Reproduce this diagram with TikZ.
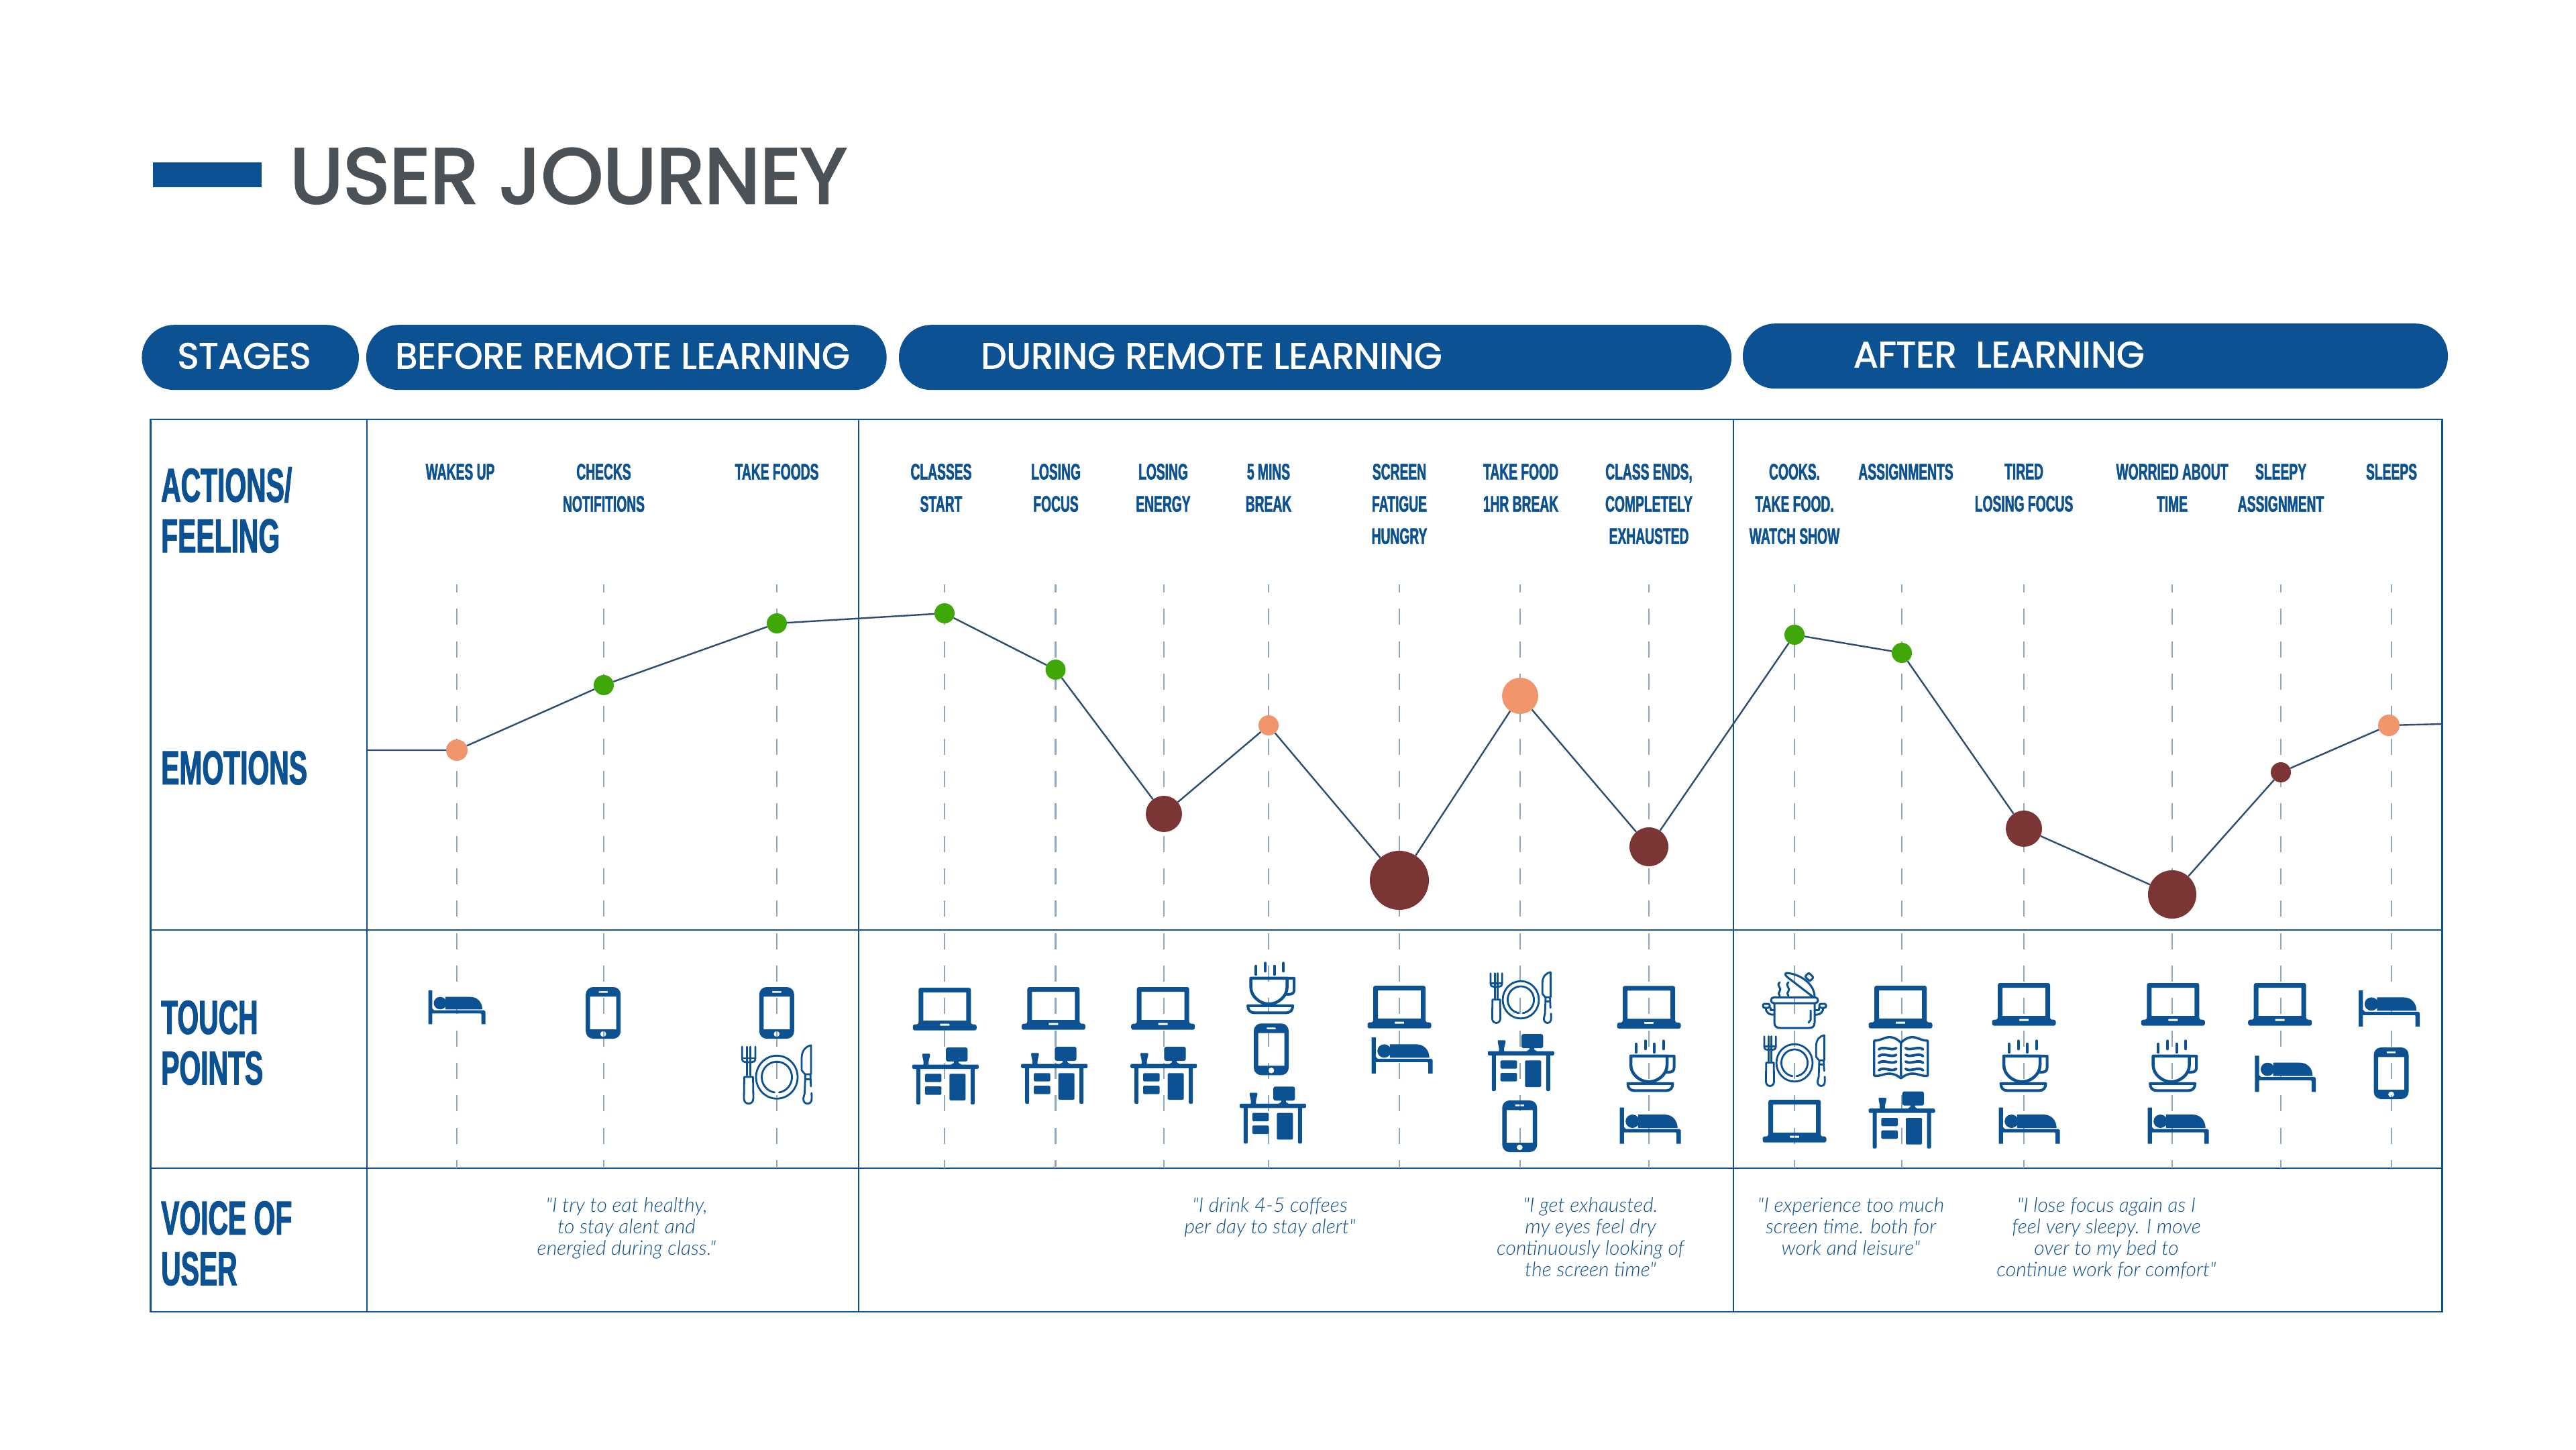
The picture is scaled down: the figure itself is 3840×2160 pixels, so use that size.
\documentclass[tikz,border=0pt]{standalone}
\usepackage{fontspec}
\usetikzlibrary{shapes.geometric}
\newfontfamily\bebasf[FakeStretch=0.575,FakeBold=1.5]{Liberation Sans Bold}
\newfontfamily\headf[FakeBold=2.8,FakeStretch=1.015]{Poppins}
\newfontfamily\pillf[FakeBold=2,FakeStretch=1.0]{Poppins}
\newfontfamily\quotef[ItalicFont={Lato Light Italic}]{Lato Light}
\definecolor{jblue}{HTML}{0C5192}
\definecolor{jgrid}{HTML}{0F5596}
\definecolor{jdash}{HTML}{8CA9C1}
\definecolor{jgray}{HTML}{4A5258}
\definecolor{jline}{HTML}{2C4D70}
\definecolor{jgreen}{HTML}{3FA808}
\definecolor{jorange}{HTML}{F0956C}
\definecolor{jdark}{HTML}{7B3535}
\tikzset{
  x=1pt,y=-1pt,
  gridline/.style={draw=jgrid,line width=2.5pt},
  vdash/.style={draw=jdash,line width=2.2pt,dash pattern=on 24pt off 24.33pt,dash phase=12pt},
  curve/.style={draw=jline,line width=2.4pt},
  dot/.style={circle,inner sep=0pt,draw=none,minimum size=#1},
  pillbox/.style={fill=jblue,rounded corners=48pt,inner sep=0pt,minimum height=97pt},
  pilltext/.style={anchor=base,inner sep=0pt,text=white,font=\pillf\fontsize{54}{60}\selectfont},
  collabel/.style={anchor=north,inner sep=0pt,align=center,text=jblue,font=\bebasf\fontsize{33.5}{48}\selectfont},
  rowlabel/.style={anchor=north west,inner sep=0pt,align=left,text=jblue,font=\bebasf\fontsize{71}{75.5}\selectfont},
  quotelabel/.style={anchor=north,inner sep=0pt,align=center,text=jblue,font=\quotef\itshape\fontsize{30}{32}\selectfont},
  iconfill/.style={fill=jblue,draw=none},
  iconline/.style={draw=jblue,line width=#1,fill=none},
  iconline/.default=3pt,
  laptop/.pic={
    \fill[iconfill,even odd rule]
      [rounded corners=3pt] (-39,0) -- (-39,54.7) -- (-47.5,54.7) -- (-47.5,63.7) -- (47.5,63.7) -- (47.5,54.7) -- (39,54.7) -- (39,0) -- cycle
      [sharp corners] (-32,7) rectangle (32,49) (-7,53.5) rectangle (7,56.5);
  },
  desk/.pic={
    \fill[iconfill,rounded corners=3pt] (0.7,0) rectangle (33,21);
    \fill[iconfill] (12.5,20) -- (19.5,20) -- (19.5,23) -- (24,26) -- (8,26) -- (12.5,23) -- cycle;
    \fill[iconfill,rounded corners=2pt] (-49.5,25.5) rectangle (49.5,32);
    \fill[iconfill,rounded corners=2pt] (-43.5,30) rectangle (-37.5,85);
    \fill[iconfill,rounded corners=2pt] (37.5,30) rectangle (43.5,85);
    \fill[iconfill,rounded corners=1.5pt] (-30.6,39.3) rectangle (-6,51.7);
    \fill[iconfill,rounded corners=1.5pt] (-30.6,58) rectangle (-6,70.7);
    \fill[iconfill,rounded corners=1.5pt] (6,39.3) rectangle (30,79);
    \fill[iconfill] (-34.6,11) .. controls (-34.6,9.3) and (-34,9.3) .. (-33,9.3) -- (-25,9.3) .. controls (-23.4,9.3) and (-23,10) .. (-23,11) .. controls (-23,16) and (-26,18) .. (-25,26) -- (-33,26) .. controls (-32,18) and (-34.6,16) .. (-34.6,11) -- cycle;
  },
  phone/.pic={
    \fill[iconfill,even odd rule]
      [rounded corners=11pt] (-26,0) rectangle (26,77)
      [sharp corners] (-19.5,14.3) rectangle (19.5,63)
      (-6.7,6) rectangle (6.7,8.7)
      (0,70) ellipse [x radius=4.5,y radius=4.3];
  },
  bed/.pic={
    \fill[iconfill] (-42.5,0) -- (-36.6,0) -- (-36.6,27) -- (-34,29.7) -- (40.5,29.7) -- (42.5,31.5) -- (42.5,50.4) -- (36.5,50.4) -- (36.5,35.5) -- (35.5,34.4) -- (-36.6,34.4) -- (-36.6,50.4) -- (-42.5,50.4) -- cycle;
    \fill[iconfill] (-24.8,19) ellipse [x radius=9.6,y radius=9.3];
    \fill[iconfill] (-17,9.7) -- (20,9.7) .. controls (31,9.7) and (38,18) .. (38,28.4) -- (-17,28.4) -- cycle;
  },
  cup/.pic={
    \draw[iconline=4pt,line cap=round] (-21.2,6.5) -- (-21.2,19) (-7.4,2) -- (-7.4,14) (5.9,6.5) -- (5.9,19) (19.6,2) -- (19.6,14);
    \draw[iconline=4.5pt,line join=round] (-29,24.5) -- (-29,38) .. controls (-29,52) and (-15,63) .. (-2,63) .. controls (11,63) and (25,52) .. (25,38) -- (25,24.5) -- cycle;
    \draw[iconline=4pt,line join=round] (25,24.5) -- (35.5,24.5) -- (35.5,42) .. controls (35.5,47) and (32,48.5) .. (28,48.5) -- (22,48.5);
    \draw[iconline=4pt,line join=round] (-33.5,65.5) -- (33.5,65.5) .. controls (33.5,72) and (30,76) .. (24,76) -- (-24,76) .. controls (-30,76) and (-33.5,72) .. (-33.5,65.5) -- cycle;
  },
  plate/.pic={
    \begin{scope}[iconline=2.8pt,line cap=round,line join=round]
    \draw (0,48.3) ellipse [x radius=31,y radius=32];
    \draw plot[domain=99:441,samples=48,smooth,variable=\t] ({22.5*cos(\t)},{48.3+23*sin(\t)});
    \draw (-51.8,3) -- (-51.8,20) .. controls (-51.8,25) and (-49,26) .. (-46,26) -- (-38,26) .. controls (-35,26) and (-32,25) .. (-32,20) -- (-32,3);
    \draw (-44.6,3) -- (-44.6,46) (-39.3,3) -- (-39.3,46) (-51.8,20) -- (-32,20);
    \draw (-48.5,48) -- (-35.5,48) -- (-35,80) .. controls (-35,90.5) and (-49,90.5) .. (-49,80) -- cycle;
    \draw (51,1) .. controls (44,2) and (37,8) .. (37,20) -- (37,38) -- (42,44) -- (51,44) -- cycle;
    \draw (42.5,44) -- (41.5,72) -- (39.5,80) .. controls (39,90.5) and (52.5,90.5) .. (52,80) -- (51.8,72);
    \draw (50,44) -- (50.8,62);
    \draw (42.5,51.5) -- (50.3,51.5);
    \end{scope}
  },
  pot/.pic={
    \begin{scope}[iconline=3pt,line cap=round,line join=round]
    \draw (-30,47) -- (-30,76) .. controls (-30,82) and (-26,84) .. (-22,84) -- (22,84) .. controls (26,84) and (30,82) .. (30,76) -- (30,47);
    \draw[rounded corners=4pt] (-35,38.5) rectangle (35,47);
    \draw[rounded corners=2.5pt] (-47,48) rectangle (-37,54);
    \draw[rounded corners=2.5pt] (37,48) rectangle (47,54);
    \draw (-43,54) .. controls (-43,60) and (-38,64) .. (-34,64) -- (-30,64);
    \draw (-36,54) -- (-36,57) -- (-30,57);
    \draw (43,54) .. controls (43,60) and (38,64) .. (34,64) -- (30,64);
    \draw (36,54) -- (36,57) -- (30,57);
    \draw (24,58) -- (24,72) -- (21,76);
    \draw (-13,2) .. controls (8,3) and (30,18) .. (30,38) (-13,2) .. controls (-15,4) and (-13,6) .. (-11,8) -- (28,38);
    \draw[rotate around={45:(22,8)},rounded corners=2pt] (18,3) rectangle (26,13);
    \draw (-22,16) .. controls (-28,21) and (-18,25) .. (-22,29) .. controls (-24,31) and (-24,33) .. (-22,36);
    \draw (-9,16) .. controls (-15,21) and (-5,25) .. (-9,29) .. controls (-11,31) and (-11,33) .. (-9,36);
    \end{scope}
  },
  book/.pic={
    \draw[iconline=3.4pt,line join=round] (0,10) .. controls (-8,2) and (-16,0) .. (-24,3) .. controls (-30,5) and (-34,7) .. (-40,7) -- (-40,59) .. controls (-32,61) and (-26,56) .. (-18,56) .. controls (-10,56) and (-5,59) .. (0,63) .. controls (5,59) and (10,56) .. (18,56) .. controls (26,56) and (32,61) .. (40,59) -- (40,7) .. controls (34,7) and (30,5) .. (24,3) .. controls (16,0) and (8,2) .. (0,10) -- cycle;
    \draw[iconline=3.4pt] (0,10) -- (0,60);
    \foreach \w in {18,28,38,49}{
      \draw[iconline=3.8pt,line cap=round] (-33,\w+2) .. controls (-26,\w-4) and (-14,\w+5) .. (-7,\w);
      \draw[iconline=3.8pt,line cap=round] (7,\w) .. controls (14,\w+5) and (26,\w-4) .. (33,\w+2);
    }
  }
}
\begin{document}
\begin{tikzpicture}
\useasboundingbox (0,0) rectangle (3840,2160);
\fill[white] (0,0) rectangle (3840,2160);

% title
\fill[jblue] (227.5,242) rectangle (390,279);
\node[anchor=base west,inner sep=0pt,text=jgray,font=\headf\fontsize{116}{120}\selectfont] (title) at (432,302.7) {USER JOURNEY};

% stage pills
\node[pillbox,minimum width=323.5pt] (pstages) at (373.2,532.7) {};
\node[pillbox,minimum width=775.7pt] (pbefore) at (933.8,532.7) {};
\node[pillbox,minimum width=1241pt] (pduring) at (1960.5,532.7) {};
\node[pillbox,minimum width=1051pt] (pafter) at (3123.5,530.7) {};
\node[pilltext] (tstages) at (364,549.3) {STAGES};
\node[pilltext] (tbefore) at (928,549.3) {BEFORE REMOTE LEARNING};
\node[pilltext] (tduring) at (1806,549.3) {DURING REMOTE LEARNING};
\node[pilltext] (tafter) at (2980,547.3) {AFTER\ \ LEARNING};

% table
\draw[gridline] (224.5,625) rectangle (3640.5,1955);
\draw[gridline] (224.5,1386) -- (3640.5,1386) (224.5,1741) -- (3640.5,1741);
\draw[gridline] (547,625) -- (547,1955) (1280,625) -- (1280,1955) (2584,625) -- (2584,1955);

% guide dashes
\foreach \gx in {681,900,1158,1408,1573.5,1735,1891,2086,2266,2458,2675,2835,3017,3238,3400,3565}{
  \coordinate (gtop) at (\gx,871);
  \coordinate (gbot) at (\gx,1741);
  \draw[vdash] (gtop) -- (gbot);
}

% row labels
\node[rowlabel] (ractions) at (240,696) {ACTIONS/\\FEELING};
\node[rowlabel] (remotions) at (240,1119) {EMOTIONS};
\node[rowlabel] (rtouch) at (240,1491) {TOUCH\\POINTS};
\node[rowlabel] (rvoice) at (240,1790) {VOICE OF\\USER};

% column labels
\node[collabel] (c1) at (686,691) {WAKES UP};
\node[collabel] (c2) at (900,691) {CHECKS\\NOTIFITIONS};
\node[collabel] (c3) at (1158,691) {TAKE FOODS};
\node[collabel] (c4) at (1403,691) {CLASSES\\START};
\node[collabel] (c5) at (1574,691) {LOSING\\FOCUS};
\node[collabel] (c6) at (1734,691) {LOSING\\ENERGY};
\node[collabel] (c7) at (1891,691) {5 MINS\\BREAK};
\node[collabel] (c8) at (2086,691) {SCREEN\\FATIGUE\\HUNGRY};
\node[collabel] (c9) at (2267,691) {TAKE FOOD\\1HR BREAK};
\node[collabel] (c10) at (2458,691) {CLASS ENDS,\\COMPLETELY\\EXHAUSTED};
\node[collabel] (c11) at (2675,691) {COOKS.\\TAKE FOOD.\\WATCH SHOW};
\node[collabel] (c12) at (2841,691) {ASSIGNMENTS};
\node[collabel] (c13) at (3017,691) {TIRED\\LOSING FOCUS};
\node[collabel] (c14) at (3238,691) {WORRIED ABOUT\\TIME};
\node[collabel] (c15) at (3400,691) {SLEEPY\\ASSIGNMENT};
\node[collabel] (c16) at (3565,691) {SLEEPS};

% emotion curve
\coordinate (e0) at (547,1118);
\coordinate (e17) at (3640,1079);
\node[dot=32pt,fill=jorange] (e1) at (681,1118) {};
\node[dot=30pt,fill=jgreen] (e2) at (900,1021) {};
\node[dot=30pt,fill=jgreen] (e3) at (1158,929) {};
\node[dot=30pt,fill=jgreen] (e4) at (1408,914) {};
\node[dot=30pt,fill=jgreen] (e5) at (1573.5,998) {};
\node[dot=54pt,fill=jdark] (e6) at (1735,1213) {};
\node[dot=30pt,fill=jorange] (e7) at (1891,1081) {};
\node[dot=88pt,fill=jdark] (e8) at (2086,1312) {};
\node[dot=54pt,fill=jorange] (e9) at (2266,1037) {};
\node[dot=58pt,fill=jdark] (e10) at (2458,1262) {};
\node[dot=30pt,fill=jgreen] (e11) at (2675,946) {};
\node[dot=30pt,fill=jgreen] (e12) at (2835,973) {};
\node[dot=54pt,fill=jdark] (e13) at (3017,1235) {};
\node[dot=72pt,fill=jdark] (e14) at (3238,1333) {};
\node[dot=30pt,fill=jdark] (e15) at (3400,1151) {};
\node[dot=32pt,fill=jorange] (e16) at (3561,1081) {};
\draw[curve] (e0) -- (e1) -- (e2) -- (e3) -- (e4) -- (e5) -- (e6) -- (e7) -- (e8) -- (e9) -- (e10) -- (e11) -- (e12) -- (e13) -- (e14) -- (e15) -- (e16) -- (e17);

% touch point icons
\pic at (681,1476) {bed};
\pic at (899.2,1471) {phone};
\pic at (1157.8,1471) {phone};
\pic at (1158,1557) {plate};
\pic at (1408.3,1472) {laptop};
\pic at (1409.4,1561) {desk};
\pic at (1570.4,1471) {laptop};
\pic at (1571.7,1560) {desk};
\pic at (1733.7,1471) {laptop};
\pic at (1734.7,1560) {desk};
\pic at (1893.6,1433.3) {cup};
\pic at (1895,1525.3) {phone};
\pic at (1897.4,1619.3) {desk};
\pic at (2086,1469) {laptop};
\pic[scale=1.07] at (2090,1546) {bed};
\pic[scale=0.87] at (2267,1448) {plate};
\pic at (2267.3,1541) {desk};
\pic at (2265.3,1640) {phone};
\pic at (2458,1469.3) {laptop};
\pic at (2460,1549.3) {cup};
\pic[scale=1.07] at (2460,1650.7) {bed};
\pic at (2675,1448) {pot};
\pic[scale=0.87] at (2675,1542) {plate};
\pic at (2675,1639) {laptop};
\pic at (2833,1469) {laptop};
\pic at (2833.7,1544) {book};
\pic at (2835,1626.7) {desk};
\pic at (3017,1465) {laptop};
\pic at (3016,1549.3) {cup};
\pic[scale=1.07] at (3025,1650.7) {bed};
\pic at (3239.3,1465) {laptop};
\pic at (3238.6,1549.3) {cup};
\pic[scale=1.07] at (3247,1650.7) {bed};
\pic at (3398.7,1465) {laptop};
\pic[scale=1.07] at (3406.7,1573.3) {bed};
\pic[scale=1.07] at (3561.6,1476) {bed};
\pic at (3564.5,1561) {phone};

% voice of user
\node[quotelabel] (q1) at (934,1784) {"I try to eat healthy,\\to stay alent and\\energied during class."};
\node[quotelabel] (q2) at (1893,1784) {"I drink 4-5 coffees\\per day to stay alert"};
\node[quotelabel] (q3) at (2371,1784) {"I get exhausted.\\my eyes feel dry\\continuously looking of\\the screen time"};
\node[quotelabel] (q4) at (2759,1784) {"I experience too much\\screen time. both for\\work and leisure"};
\node[quotelabel] (q5) at (3140,1784) {"I lose focus again as I\\feel very sleepy. I move\\over to my bed to\\continue work for comfort"};
\end{tikzpicture}
\end{document}
